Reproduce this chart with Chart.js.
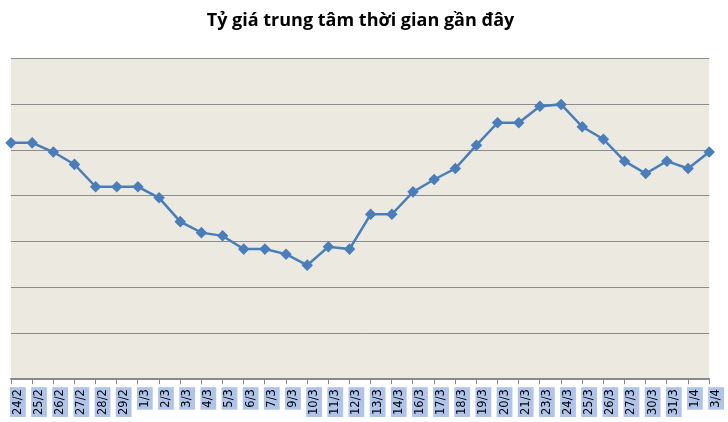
<!DOCTYPE html>
<html><head><meta charset="utf-8">
<script src="https://cdn.jsdelivr.net/npm/chart.js@4"></script>
<style>html,body{margin:0;background:#fff}#w{width:728px;height:422px}</style>
</head><body><div id="w"><canvas id="c"></canvas></div>
<script>
const categories=["24/2","25/2","26/2","27/2","28/2","29/2","1/3","2/3","3/3","4/3","5/3","6/3","7/3","9/3","10/3","11/3","12/3","13/3","14/3","16/3","17/3","18/3","19/3","20/3","21/3","23/3","24/3","25/3","26/3","27/3","30/3","31/3","1/4","3/4"];
const rateValues=[5.16,5.16,4.96,4.69,4.2,4.2,4.2,3.96,3.44,3.2,3.13,2.84,2.84,2.73,2.49,2.89,2.84,3.6,3.6,4.09,4.36,4.6,5.11,5.6,5.6,5.96,6.0,5.51,5.24,4.76,4.49,4.76,4.6,4.96];
const bgPlugin={id:'bg',beforeDraw(ch){const a=ch.chartArea,c=ch.ctx;c.save();c.fillStyle='#ecEAe0';c.fillRect(a.left,a.top,a.right-a.left,a.bottom-a.top);c.restore();}};
new Chart(document.getElementById('c'),{type:'line',
data:{labels:categories,datasets:[{data:rateValues,borderColor:'#4a7ebb',backgroundColor:'#4a7ebb',borderWidth:2.5,pointStyle:'rectRot',pointRadius:4,tension:0}]},
options:{responsive:true,maintainAspectRatio:false,animation:false,
layout:{padding:{left:11,right:18,top:0,bottom:2}},
plugins:{legend:{display:false},tooltip:{enabled:false},
title:{display:true,text:'Tỷ giá trung tâm thời gian gần đây',font:{family:'Open Sans',size:18,weight:'bold'},color:'#000',padding:{top:10,bottom:27}}},
scales:{
x:{offset:false,grid:{display:true,drawOnChartArea:false,drawTicks:true,tickLength:5,color:'#888'},border:{color:'#888',width:1.5},
ticks:{autoSkip:false,minRotation:90,maxRotation:90,font:{family:'DejaVu Sans',size:11.5},color:'#000',showLabelBackdrop:true,backdropColor:'#b0c4ea',backdropPadding:{top:1,bottom:1,left:2,right:2},padding:5}},
y:{min:0,max:7,ticks:{stepSize:1,display:false},grid:{color:'#8c8c8c',drawTicks:false},border:{display:false}}
}},plugins:[bgPlugin]});
</script></body></html>
